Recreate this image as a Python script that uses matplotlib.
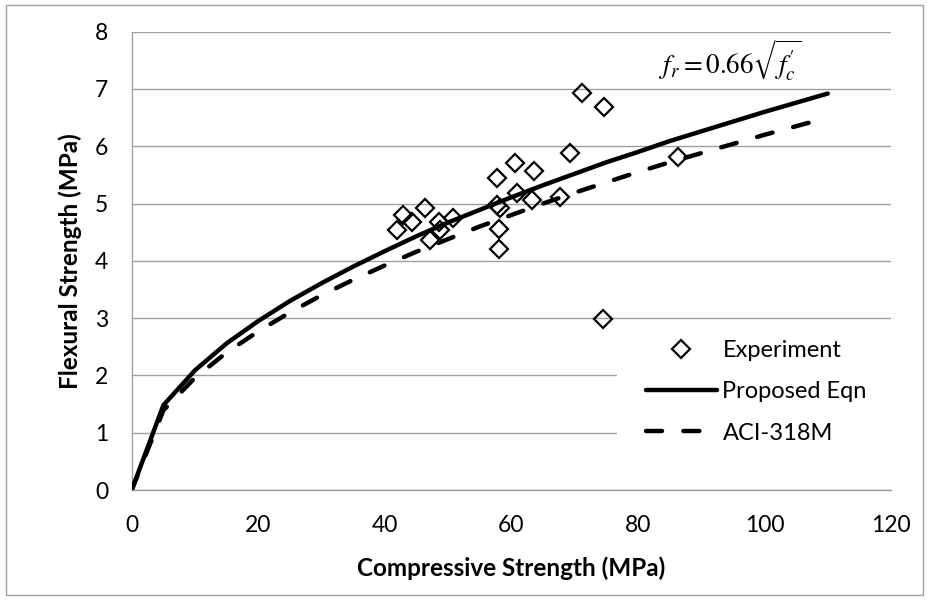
import matplotlib
matplotlib.use("Agg")
from matplotlib import pyplot as plt
from matplotlib.patches import Rectangle

# experimental points (compressive, flexural) in MPa
exp_fc = [42.9, 41.9, 44.3, 46.3, 48.5, 50.8, 47.2, 48.7, 57.7, 60.6, 63.5, 60.9,
          57.7, 58.2, 63.2, 67.7, 58.0, 58.1, 69.3, 86.3, 74.5, 71.2, 74.6]
exp_fr = [4.80, 4.54, 4.67, 4.92, 4.67, 4.74, 4.36, 4.54, 5.44, 5.70, 5.56, 5.18,
          4.97, 4.92, 5.07, 5.12, 4.55, 4.20, 5.88, 5.81, 2.98, 6.93, 6.69]

# curve points read at 5 MPa steps
curve_fc = [0, 5, 10, 15, 20, 25, 30, 35, 40, 45, 50, 55,
            60, 65, 70, 75, 80, 85, 90, 95, 100, 105, 110]
proposed = [0, 1.48, 2.09, 2.56, 2.95, 3.30, 3.61, 3.90, 4.17, 4.43, 4.67, 4.89,
            5.11, 5.32, 5.52, 5.72, 5.90, 6.09, 6.26, 6.43, 6.60, 6.76, 6.92]
aci = [0, 1.39, 1.96, 2.40, 2.77, 3.10, 3.40, 3.67, 3.92, 4.16, 4.38, 4.60,
       4.80, 5.00, 5.19, 5.37, 5.55, 5.72, 5.88, 6.04, 6.20, 6.35, 6.50]

plt.rcParams['font.family'] = ['Lato', 'DejaVu Sans']
plt.rcParams['mathtext.fontset'] = 'stix'

fig = plt.figure(figsize=(9.29, 6.0), dpi=100)
ax = fig.add_axes([0.1418, 0.1833, 0.9591 - 0.1418, 0.9472 - 0.1833])

ax.plot(exp_fc, exp_fr, linestyle='none', marker='D', markersize=9.5,
        markerfacecolor='none', markeredgecolor='black', markeredgewidth=1.6,
        label='Experiment', zorder=3)
ax.plot(curve_fc, proposed, color='black', linewidth=3.2,
        solid_capstyle='round', label='Proposed Eqn', zorder=4)
ax.plot(curve_fc, aci, color='black', linewidth=3.2, dashes=(3.6, 4.8),
        dash_capstyle='round', label='ACI-318M', zorder=4)

ax.set_xlim(0, 120)
ax.set_ylim(0, 8)
ax.set_xticks(range(0, 121, 20))
ax.set_yticks(range(0, 9))
ax.grid(True, axis='y', color='#a0a0a0', linewidth=1.0)
ax.set_axisbelow(True)
for side in ['top', 'right']:
    ax.spines[side].set_visible(False)
for side in ['left', 'bottom']:
    ax.spines[side].set_color('#a0a0a0')
    ax.spines[side].set_linewidth(1.0)
ax.tick_params(axis='both', length=0, labelsize=16.5)
ax.tick_params(axis='x', pad=18)
ax.tick_params(axis='y', pad=17)

# white legend area hides the lower gridlines like in the excel chart
ax.add_patch(Rectangle((0.639, 0.03), 0.361, 0.335, transform=ax.transAxes,
                       facecolor='white', edgecolor='none', zorder=1))

leg = ax.legend(loc='center left', bbox_to_anchor=(0.677, 0.214),
                fontsize=17, handlelength=3.0, handletextpad=0.25,
                labelspacing=0.85, borderpad=0, borderaxespad=0,
                frameon=False)
leg.set_zorder(5)

ax.text(0.788, 0.938, r'$f_r = 0.66\sqrt{f_c^{\prime}}$', transform=ax.transAxes,
        ha='center', va='center', fontsize=19.5)

fig.text(511.5 / 929, 1 - 568 / 600, 'Compressive Strength (MPa)',
         ha='center', va='center', fontsize=17.5, fontweight='bold')
fig.text(70 / 929, 0.565, 'Flexural Strength (MPa)', rotation=90,
         ha='center', va='center', fontsize=17.5, fontweight='bold')

fig.patches.append(Rectangle((6 / 929, 5 / 600), 917 / 929, 590 / 600,
                             transform=fig.transFigure, fill=False,
                             edgecolor='#a0a0a0', linewidth=1.0))

fig.savefig('out.png', dpi=100)
